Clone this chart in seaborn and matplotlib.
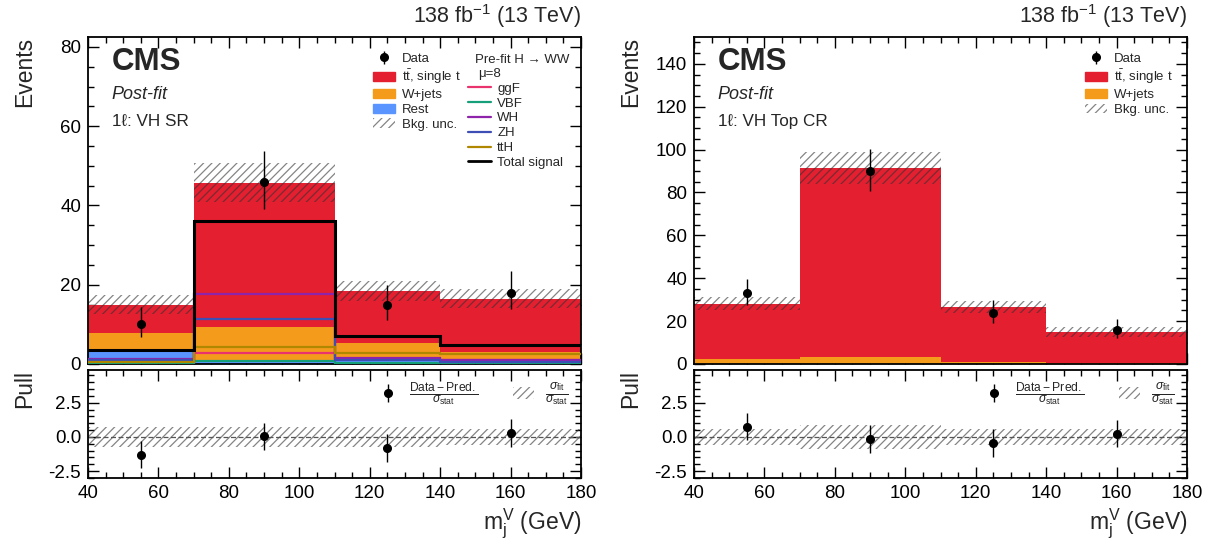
import numpy as np
import pandas as pd
import matplotlib
matplotlib.use("Agg")
import matplotlib.pyplot as plt
import seaborn as sns
from matplotlib.patches import Patch
from matplotlib.lines import Line2D
from matplotlib.ticker import MultipleLocator, FormatStrFormatter

# ---------------- data ----------------
edges = [40, 70, 110, 140, 180]
centers = [55, 90, 125, 160]

# signal region (left)
sr_top = [7.2, 36.4, 13.0, 13.4]
sr_wjets = [4.5, 8.5, 4.4, 2.5]
sr_rest = [3.3, 0.8, 1.0, 0.6]
sr_unc = [2.5, 4.9, 2.6, 2.3]
sr_data = [10, 46, 15, 18]
sr_data_lo = [3.1, 6.8, 3.8, 4.2]
sr_data_hi = [4.3, 7.8, 5.0, 5.4]
sr_ggf = [0.3, 2.7, 1.3, 0.9]
sr_vbf = [0.1, 0.8, 0.3, 0.2]
sr_wh = [1.3, 17.6, 1.6, 0.9]
sr_zh = [0.9, 11.4, 1.0, 0.5]
sr_tth = [0.6, 4.2, 2.8, 2.6]
sr_total_sig = [3.5, 36.0, 7.1, 4.7]
sr_pull = [-1.3, 0.05, -0.8, 0.3]
sr_pull_band = [0.75, 0.72, 0.72, 0.55]

# top control region (right)
cr_top = [25.9, 88.2, 25.5, 14.7]
cr_wjets = [2.2, 3.3, 1.0, 0.4]
cr_unc = [3.1, 7.5, 2.9, 2.3]
cr_data = [33, 90, 24, 16]
cr_data_lo = [5.7, 9.4, 4.8, 4.0]
cr_data_hi = [6.8, 10.5, 6.0, 5.1]
cr_pull = [0.75, -0.15, -0.45, 0.25]
cr_pull_band = [0.6, 0.85, 0.6, 0.6]

lumi_text = r"138 fb$^{-1}$ (13 TeV)"
xlabel_text = r"m$_{\mathrm{j}}^{\mathrm{V}}$ (GeV)"

# ---------------- style ----------------
sns.set_theme(style="ticks")
plt.rcParams["font.family"] = ["Liberation Sans", "DejaVu Sans"]
plt.rcParams["mathtext.fontset"] = "custom"
plt.rcParams["mathtext.rm"] = "Liberation Sans"
plt.rcParams["mathtext.it"] = "Liberation Sans:italic"
plt.rcParams["mathtext.bf"] = "Liberation Sans:bold"
plt.rcParams["hatch.linewidth"] = 0.9

C_TOP = "#e31f30"
C_WJ = "#f59b1b"
C_REST = "#5a95ff"
C_GGF = "#e8336e"
C_VBF = "#16a07a"
C_WH = "#8e24aa"
C_ZH = "#3d4fb5"
C_TTH = "#b08800"
HATCH_C = (0.2, 0.2, 0.2, 0.6)
LEG_FS = 9.5

fig = plt.figure(figsize=(12.1, 5.41), dpi=100)
W, H = 1210.0, 541.0


def axes_px(x0, y_top, w, h):
    return fig.add_axes([x0 / W, 1 - (y_top + h) / H, w / W, h / H])


ax_l = axes_px(88, 37, 493, 327)
axp_l = axes_px(88, 370, 493, 108)
ax_r = axes_px(694, 37, 493, 327)
axp_r = axes_px(694, 370, 493, 108)

TICK_FS = 13.5


def style_axes(ax, show_xlabels):
    ax.tick_params(which="both", direction="in", top=True, right=True,
                   labelsize=TICK_FS, pad=5, width=1.0, colors="black")
    ax.tick_params(which="major", length=8)
    ax.tick_params(which="minor", length=4)
    ax.xaxis.set_major_locator(MultipleLocator(20))
    ax.xaxis.set_minor_locator(MultipleLocator(5))
    if not show_xlabels:
        ax.tick_params(axis="x", labelbottom=False)
    for s in ax.spines.values():
        s.set_linewidth(1.3)
        s.set_color("black")
    ax.set_xlim(40, 180)


def draw_main(ax, procs, colors, names, unc, data, dlo, dhi, ymax, region_text):
    n = len(procs)
    df = pd.DataFrame({
        "x": centers * n,
        "w": sum(procs, []),
        "proc": sum([[nm] * len(centers) for nm in names], []),
    })
    sns.histplot(data=df, x="x", weights="w", hue="proc", hue_order=names,
                 multiple="stack", bins=edges, palette=dict(zip(names, colors)),
                 alpha=1, linewidth=0, legend=False, ax=ax, element="bars")
    total = np.sum(np.array(procs), axis=0)
    unc = np.array(unc)
    ax.stairs(total + unc, edges, baseline=total - unc, fill=True,
              facecolor="none", edgecolor=HATCH_C, hatch="////", linewidth=0)
    eb = ax.errorbar(centers, data, yerr=[dlo, dhi], fmt="o", color="black",
                     markersize=5.5, elinewidth=1.0, capsize=0, zorder=10)
    ax.set_ylim(0, ymax)
    ax.set_xlabel("")
    ax.set_ylabel("Events", fontsize=16.5, loc="top")
    ax.yaxis.set_label_coords(-0.105, 1.0)
    ax.yaxis.set_major_locator(MultipleLocator(20))
    ax.yaxis.set_minor_locator(MultipleLocator(5))
    style_axes(ax, False)
    ax.text(0.048, 0.924, "CMS", transform=ax.transAxes, fontsize=22.5,
            fontweight="bold", va="center", ha="left")
    ax.text(0.048, 0.823, "Post-fit", transform=ax.transAxes, fontsize=13,
            style="italic", va="center", ha="left")
    ax.text(0.048, 0.743, region_text, transform=ax.transAxes, fontsize=12.3,
            va="center", ha="left")
    ax.text(1.0, 1.02, lumi_text, transform=ax.transAxes, fontsize=15.5,
            ha="right", va="bottom")
    return eb


def draw_pull(ax, pull, band):
    band = np.array(band)
    ax.stairs(band, edges, baseline=-band, fill=True, facecolor="none",
              edgecolor=HATCH_C, hatch="////", linewidth=0)
    ax.axhline(0, color="#555555", lw=0.9, ls=(0, (4, 2)))
    ax.errorbar(centers, pull, yerr=1.0, fmt="o", color="black",
                markersize=5.5, elinewidth=1.0, capsize=0, zorder=10)
    ax.set_ylim(-3.0, 4.9)
    ax.yaxis.set_major_locator(MultipleLocator(2.5))
    ax.yaxis.set_minor_locator(MultipleLocator(0.5))
    ax.yaxis.set_major_formatter(FormatStrFormatter("%.1f"))
    style_axes(ax, True)
    ax.set_ylabel("Pull", fontsize=16.5, loc="top")
    ax.yaxis.set_label_coords(-0.105, 1.0)
    ax.set_xlabel(xlabel_text, fontsize=16.5, loc="right")
    ax.xaxis.set_label_coords(1.0, -0.27)
    h_pt = ax.errorbar([], [], yerr=[], fmt="o", color="black", markersize=5.5,
                       elinewidth=1.0)
    h_band = Patch(facecolor="white", edgecolor=HATCH_C, hatch="////", lw=0)
    ax.legend([h_pt, h_band],
              [r"$\frac{\mathrm{Data - Pred.}}{\sigma_{\mathrm{stat}}}$",
               r"$\frac{\sigma_{\mathrm{fit}}}{\sigma_{\mathrm{stat}}}$"],
              ncol=2, loc="upper right", bbox_to_anchor=(0.995, 1.0),
              frameon=False, fontsize=12.5, handlelength=1.2,
              handletextpad=0.6, columnspacing=2.0, borderaxespad=0.2)


# ---------------- left: signal region ----------------
eb_l = draw_main(ax_l, [sr_top, sr_wjets, sr_rest], [C_TOP, C_WJ, C_REST],
                 ["top", "wjets", "rest"], sr_unc, sr_data, sr_data_lo,
                 sr_data_hi, 82.5, "1\u2113: VH SR")
for vals, c in [(sr_ggf, C_GGF), (sr_vbf, C_VBF), (sr_wh, C_WH),
                (sr_zh, C_ZH), (sr_tth, C_TTH)]:
    ax_l.stairs(vals, edges, baseline=None, color=c, lw=1.6, zorder=5)
ax_l.stairs(sr_total_sig, edges, baseline=None, color="black", lw=2.2, zorder=6)

unc_patch = Patch(facecolor="white", edgecolor=HATCH_C, hatch="////", lw=0)
leg_kw = dict(frameon=False, fontsize=LEG_FS, handlelength=1.7,
              handleheight=0.7, labelspacing=0.2, handletextpad=0.5,
              borderaxespad=0, borderpad=0)
leg1 = ax_l.legend([eb_l, Patch(color=C_TOP), Patch(color=C_WJ),
                    Patch(color=C_REST), unc_patch],
                   ["Data", r"t$\bar{\mathrm{t}}$, single t", "W+jets", "Rest",
                    "Bkg. unc."],
                   loc="upper left", bbox_to_anchor=(0.578, 0.952), **leg_kw)
ax_l.add_artist(leg1)
ax_l.text(0.785, 0.930, "Pre-fit H \u2192 WW", transform=ax_l.transAxes,
          fontsize=LEG_FS, ha="left", va="center")
ax_l.text(0.791, 0.887, "\u03bc=8", transform=ax_l.transAxes,
          fontsize=LEG_FS, ha="left", va="center")
sig_handles = [Line2D([0], [0], color=c, lw=lw) for c, lw in
               [(C_GGF, 1.6), (C_VBF, 1.6), (C_WH, 1.6), (C_ZH, 1.6),
                (C_TTH, 1.6), ("black", 2.0)]]
ax_l.legend(sig_handles, ["ggF", "VBF", "WH", "ZH", "ttH", "Total signal"],
            loc="upper left", bbox_to_anchor=(0.771, 0.861), **leg_kw)
draw_pull(axp_l, sr_pull, sr_pull_band)

# ---------------- right: top control region ----------------
eb_r = draw_main(ax_r, [cr_top, cr_wjets], [C_TOP, C_WJ], ["top", "wjets"],
                 cr_unc, cr_data, cr_data_lo, cr_data_hi, 152.5,
                 "1\u2113: VH Top CR")
ax_r.legend([eb_r, Patch(color=C_TOP), Patch(color=C_WJ), unc_patch],
            ["Data", r"t$\bar{\mathrm{t}}$, single t", "W+jets", "Bkg. unc."],
            loc="upper left", bbox_to_anchor=(0.793, 0.952), **leg_kw)
draw_pull(axp_r, cr_pull, cr_pull_band)

fig.savefig("out.png", dpi=100)
